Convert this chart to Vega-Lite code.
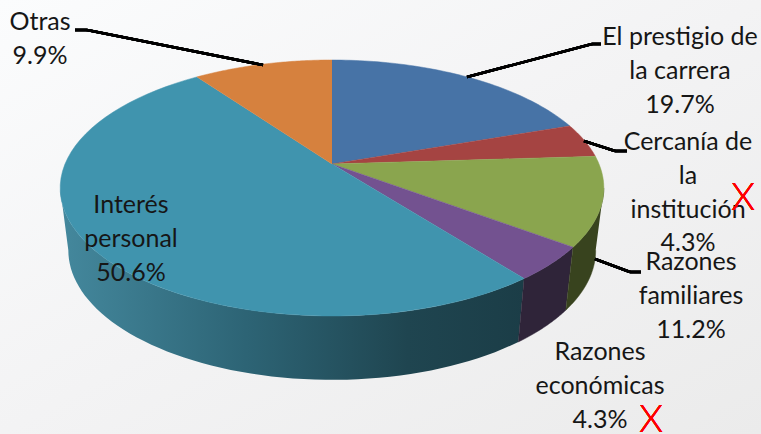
{
"$schema":"https://vega.github.io/schema/vega-lite/v6.json",
"width":761,"height":434,
"autosize":{"type":"none"},
"padding":0,
"background":"#f2f2f2",
"config":{"view":{"stroke":null,"fill":{"gradient":"linear","x1":0,"y1":0,"x2":1,"y2":1,"stops":[{"offset":0,"color":"#fbfcfd"},{"offset":0.5,"color":"#f3f3f4"},{"offset":1,"color":"#ebebeb"}]}},"axis":{"disable":true},"text":{"font":"Lato","fontSize":25,"color":"#161616","lineHeight":33.8,"baseline":"middle","align":"center"},"rule":{"color":"#000000","strokeWidth":2.5}},
"data":{"values":[
{"motivo":"El prestigio de la carrera","share":19.7,"lineas":["El prestigio de","la carrera","19.7%"]},
{"motivo":"Cercanía de la institución","share":4.3,"lineas":["Cercanía de","la","institución","4.3%"]},
{"motivo":"Razones familiares","share":11.2,"lineas":["Razones","familiares","11.2%"]},
{"motivo":"Razones económicas","share":4.3,"lineas":["Razones","económicas","4.3%"]},
{"motivo":"Interés personal","share":50.6,"lineas":["Interés","personal","50.6%"]},
{"motivo":"Otras","share":9.9,"lineas":["Otras","9.9%"]}
]},
"transform":[
{"window":[{"op":"sum","field":"share","as":"acum"}]},
{"calculate":"(datum.acum-datum.share)*PI/50","as":"t0"},
{"calculate":"datum.acum*PI/50","as":"t1"},
{"calculate":"max(datum.t0,1.759)","as":"w0"},
{"calculate":"min(datum.t1,4.524)","as":"w1"}
],
"layer":[
{"transform":[
{"filter":"datum.motivo==='Interés personal'"},
{"calculate":"sequence(0,122)","as":"i"},{"flatten":["i"]},
{"calculate":"datum.i<=60?datum.w0+(datum.w1-datum.w0)*datum.i/60:datum.w1-(datum.w1-datum.w0)*(datum.i-61)/60","as":"a"},
{"calculate":"datum.i<=60?267*sin(datum.a)/(1+0.1875*cos(datum.a)):259*sin(datum.a)/(1+0.1875*cos(datum.a))","as":"px"},
{"calculate":"datum.i<=60?123.5*cos(datum.a)/(1+0.1875*cos(datum.a)):125*cos(datum.a)/(1+0.1875*cos(datum.a))-62","as":"py"}
],
"mark":{"type":"line","strokeWidth":0,"fill":{"gradient":"linear","x1":1,"y1":0,"x2":0,"y2":0,"stops":[{"offset":0,"color":"#1b3d47"},{"offset":0.25,"color":"#1f4550"},{"offset":0.6,"color":"#2d6475"},{"offset":1,"color":"#44889d"}]}},
"encoding":{"x":{"field":"px","type":"quantitative","scale":{"domain":[-332,429],"nice":false,"zero":false}},"y":{"field":"py","type":"quantitative","scale":{"domain":[-270,164],"nice":false,"zero":false}},"order":{"field":"i","type":"quantitative"}}},
{"transform":[
{"filter":"datum.motivo==='Razones económicas'"},
{"calculate":"sequence(0,122)","as":"i"},{"flatten":["i"]},
{"calculate":"datum.i<=60?datum.w0+(datum.w1-datum.w0)*datum.i/60:datum.w1-(datum.w1-datum.w0)*(datum.i-61)/60","as":"a"},
{"calculate":"datum.i<=60?267*sin(datum.a)/(1+0.1875*cos(datum.a)):259*sin(datum.a)/(1+0.1875*cos(datum.a))","as":"px"},
{"calculate":"datum.i<=60?123.5*cos(datum.a)/(1+0.1875*cos(datum.a)):125*cos(datum.a)/(1+0.1875*cos(datum.a))-62","as":"py"}
],
"mark":{"type":"line","strokeWidth":0.5,"fill":"#2f2439","stroke":"#2f2439"},
"encoding":{"x":{"field":"px","type":"quantitative"},"y":{"field":"py","type":"quantitative"},"order":{"field":"i","type":"quantitative"}}},
{"transform":[
{"filter":"datum.motivo==='Razones familiares'"},
{"calculate":"sequence(0,122)","as":"i"},{"flatten":["i"]},
{"calculate":"datum.i<=60?datum.w0+(datum.w1-datum.w0)*datum.i/60:datum.w1-(datum.w1-datum.w0)*(datum.i-61)/60","as":"a"},
{"calculate":"datum.i<=60?267*sin(datum.a)/(1+0.1875*cos(datum.a)):259*sin(datum.a)/(1+0.1875*cos(datum.a))","as":"px"},
{"calculate":"datum.i<=60?123.5*cos(datum.a)/(1+0.1875*cos(datum.a)):125*cos(datum.a)/(1+0.1875*cos(datum.a))-62","as":"py"}
],
"mark":{"type":"line","strokeWidth":0.5,"fill":"#38431e","stroke":"#38431e"},
"encoding":{"x":{"field":"px","type":"quantitative"},"y":{"field":"py","type":"quantitative"},"order":{"field":"i","type":"quantitative"}}},
{"transform":[
{"calculate":"sequence(0,62)","as":"i"},{"flatten":["i"]},
{"calculate":"datum.t0+(datum.t1-datum.t0)*(datum.i-1)/60","as":"a"},
{"calculate":"datum.i==0?0:267*sin(datum.a)/(1+0.1875*cos(datum.a))","as":"px"},
{"calculate":"datum.i==0?0:123.5*cos(datum.a)/(1+0.1875*cos(datum.a))","as":"py"}
],
"mark":{"type":"line","strokeWidth":0.5},
"encoding":{"x":{"field":"px","type":"quantitative"},"y":{"field":"py","type":"quantitative"},"order":{"field":"i","type":"quantitative"},
"fill":{"field":"motivo","legend":null,"scale":{"domain":["El prestigio de la carrera","Cercanía de la institución","Razones familiares","Razones económicas","Interés personal","Otras"],"range":["#4773a6","#a54442","#8aa54e","#735290","#4094ae","#d6813e"]}},
"stroke":{"field":"motivo","legend":null,"scale":{"domain":["El prestigio de la carrera","Cercanía de la institución","Razones familiares","Razones económicas","Interés personal","Otras"],"range":["#4773a6","#a54442","#8aa54e","#735290","#4094ae","#d6813e"]}}}},
{"mark":"rule","encoding":{"x":{"datum":135},"y":{"datum":87},"x2":{"datum":260},"y2":{"datum":120}}},
{"mark":"rule","encoding":{"x":{"datum":260},"y":{"datum":120},"x2":{"datum":269},"y2":{"datum":120}}},
{"mark":"rule","encoding":{"x":{"datum":252},"y":{"datum":23},"x2":{"datum":283},"y2":{"datum":13}}},
{"mark":"rule","encoding":{"x":{"datum":283},"y":{"datum":13},"x2":{"datum":295},"y2":{"datum":13}}},
{"mark":"rule","encoding":{"x":{"datum":263},"y":{"datum":-95},"x2":{"datum":298},"y2":{"datum":-108}}},
{"mark":"rule","encoding":{"x":{"datum":298},"y":{"datum":-108},"x2":{"datum":309},"y2":{"datum":-108}}},
{"mark":"rule","encoding":{"x":{"datum":-257},"y":{"datum":134},"x2":{"datum":-245},"y2":{"datum":134}}},
{"mark":"rule","encoding":{"x":{"datum":-245},"y":{"datum":134},"x2":{"datum":-69},"y2":{"datum":99}}},
{"transform":[{"filter":"datum.motivo==='El prestigio de la carrera'"}],"mark":"text","encoding":{"text":{"field":"lineas"},"x":{"datum":348},"y":{"datum":127}}},
{"transform":[{"filter":"datum.motivo==='Cercanía de la institución'"}],"mark":"text","encoding":{"text":{"field":"lineas"},"x":{"datum":356},"y":{"datum":22}}},
{"transform":[{"filter":"datum.motivo==='Razones familiares'"}],"mark":"text","encoding":{"text":{"field":"lineas"},"x":{"datum":359},"y":{"datum":-98}}},
{"transform":[{"filter":"datum.motivo==='Razones económicas'"}],"mark":"text","encoding":{"text":{"field":"lineas"},"x":{"datum":268},"y":{"datum":-188}}},
{"transform":[{"filter":"datum.motivo==='Interés personal'"}],"mark":"text","encoding":{"text":{"field":"lineas"},"x":{"datum":-201},"y":{"datum":-41}}},
{"transform":[{"filter":"datum.motivo==='Otras'"}],"mark":"text","encoding":{"text":{"field":"lineas"},"x":{"datum":-292},"y":{"datum":142}}},
{"mark":{"type":"text","text":"X","font":"Lato","fontWeight":300,"fontSize":38,"color":"#ff0000"},"encoding":{"x":{"datum":411},"y":{"datum":-35}}},
{"mark":{"type":"text","text":"X","font":"Lato","fontWeight":300,"fontSize":38,"color":"#ff0000"},"encoding":{"x":{"datum":319},"y":{"datum":-257}}}
]
}
